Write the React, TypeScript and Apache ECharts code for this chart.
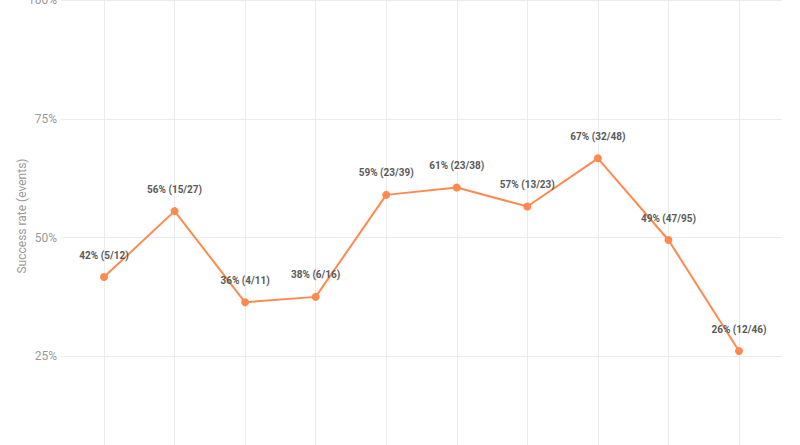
import React, { useEffect, useRef } from "react";
import * as echarts from "echarts";

const categories = ["1", "2", "3", "4", "5", "6", "7", "8", "9", "10"];
const successes = [5, 15, 4, 6, 23, 23, 13, 32, 47, 12];
const totals = [12, 27, 11, 16, 39, 38, 23, 48, 95, 46];
const yTicks = [0, 0.25, 0.5, 0.75, 1];

export default function App() {
  const ref = useRef<HTMLDivElement>(null);
  useEffect(() => {
    document.body.style.margin = "0";
    document.body.style.overflow = "hidden";
    const chart = echarts.init(ref.current!, null, { renderer: "svg" });
    const rates = successes.map((s, i) => s / totals[i]);
    const font = "Roboto, 'Noto Sans', sans-serif";
    chart.setOption({
      animation: false,
      backgroundColor: "#ffffff",
      textStyle: { fontFamily: font },
      grid: [
        { left: 61, right: 18, top: 0, bottom: 25, outerBoundsMode: "none", containLabel: false },
        { left: 104, right: 61, top: 0, bottom: 25, outerBoundsMode: "none", containLabel: false },
      ],
      xAxis: [
        { type: "category", gridIndex: 0, data: categories, show: false },
        {
          type: "category",
          gridIndex: 1,
          data: categories,
          boundaryGap: false,
          axisLine: { show: false },
          axisTick: { show: false },
          axisLabel: { show: false },
          splitLine: { show: true, lineStyle: { color: "#ececec", width: 1 } },
        },
      ],
      yAxis: [
        {
          type: "value",
          gridIndex: 0,
          min: yTicks[0],
          max: yTicks[yTicks.length - 1],
          interval: 0.25,
          axisLine: { show: false },
          axisTick: { show: false },
          axisLabel: {
            color: "#9a9a9a",
            fontSize: 12,
            margin: 4,
            showMinLabel: false,
            fontFamily: font,
            formatter: (v: number) => Math.round(v * 100) + "%",
          },
          splitLine: { show: true, lineStyle: { color: "#ececec", width: 1 } },
        },
        {
          type: "value",
          gridIndex: 1,
          min: yTicks[0],
          max: yTicks[yTicks.length - 1],
          interval: 0.25,
          show: false,
          splitLine: { show: false },
        },
      ],
      graphic: [
        {
          type: "text",
          x: 22,
          y: 216,
          rotation: Math.PI / 2,
          style: {
            text: "Success rate (events)",
            fill: "#9a9a9a",
            font: "12px " + font,
            textAlign: "center",
            textVerticalAlign: "middle",
          },
        },
      ],
      series: [
        {
          type: "line",
          xAxisIndex: 1,
          yAxisIndex: 1,
          data: rates,
          symbol: "circle",
          symbolSize: 8,
          lineStyle: { color: "#ff8a4f", width: 2 },
          itemStyle: { color: "#ff8a4f" },
          label: {
            show: true,
            position: "top",
            distance: 13,
            color: "#5a5a5a",
            fontSize: 10,
            fontWeight: "bold",
            fontFamily: font,
            formatter: (p: any) =>
              Math.round(rates[p.dataIndex] * 100) +
              "% (" +
              successes[p.dataIndex] +
              "/" +
              totals[p.dataIndex] +
              ")",
          },
        },
      ],
    });
    return () => chart.dispose();
  }, []);
  return (
    <div style={{ width: 800, height: 445, overflow: "hidden" }}>
      <div ref={ref} style={{ width: 800, height: 500 }} />
    </div>
  );
}
